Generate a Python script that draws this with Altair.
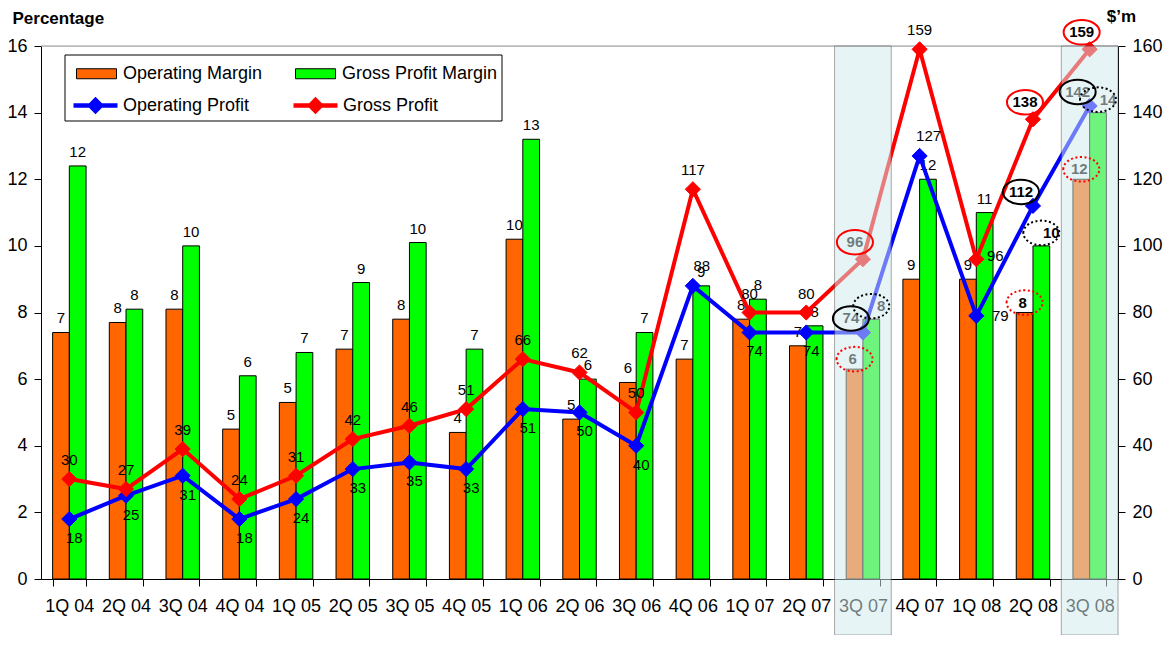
import json
import altair as alt
import pandas as pd

# ---------------- data ----------------
quarters = ["1Q 04", "2Q 04", "3Q 04", "4Q 04", "1Q 05", "2Q 05", "3Q 05", "4Q 05",
            "1Q 06", "2Q 06", "3Q 06", "4Q 06", "1Q 07", "2Q 07", "3Q 07", "4Q 07",
            "1Q 08", "2Q 08", "3Q 08"]
operating_margin = [7.4, 7.7, 8.1, 4.5, 5.3, 6.9, 7.8, 4.4, 10.2, 4.8, 5.9, 6.6,
                    7.8, 7.0, 6.3, 9.0, 9.0, 8.0, 12.0]
gross_profit_margin = [12.4, 8.1, 10.0, 6.1, 6.8, 8.9, 10.1, 6.9, 13.2, 6.0, 7.4, 8.8,
                       8.4, 7.6, 7.8, 12.0, 11.0, 10.0, 14.0]
operating_profit = [18, 25, 31, 18, 24, 33, 35, 33, 51, 50, 40, 88, 74, 74, 74, 127, 79, 112, 142]
gross_profit = [30, 27, 39, 24, 31, 42, 46, 51, 66, 62, 50, 117, 80, 80, 96, 159, 96, 138, 159]

bar_series = ["Operating Margin", "Gross Profit Margin"]
line_series = ["Operating Profit", "Gross Profit"]
highlighted = ["3Q 07", "3Q 08"]
annotated = ["3Q 07", "2Q 08", "3Q 08"]
side_labelled = ["1Q 08"]
blue_above = ["4Q 06", "4Q 07"]

# ---------------- layout / style ----------------
W, H = 1077, 533
PAD = {"left": 33, "top": 38, "right": 49, "bottom": 56}
FONT = "Liberation Sans"
ORANGE, GREEN, BLUE, RED = "#ff6600", "#00ff00", "#0000ff", "#ff0000"

bars_df = pd.DataFrame({
    "quarter": quarters * 2,
    "series": [bar_series[0]] * len(quarters) + [bar_series[1]] * len(quarters),
    "value": operating_margin + gross_profit_margin,
})
lines_df = pd.DataFrame({
    "quarter": quarters * 2,
    "series": [line_series[0]] * len(quarters) + [line_series[1]] * len(quarters),
    "value": operating_profit + gross_profit,
})
hl_df = pd.DataFrame({"quarter": highlighted})
one_df = pd.DataFrame({"k": [0]})


def in_list(lst):
    return f"indexof({json.dumps(lst)}, datum.quarter) >= 0"


def not_in_list(lst):
    return f"indexof({json.dumps(lst)}, datum.quarter) < 0"


def series_is(name):
    return f"datum.series == '{name}'"


x_scale = alt.Scale(domain=quarters, paddingInner=0.41, paddingOuter=0.205)
x_axis = alt.Axis(title=None, labelAngle=0, tickBand="extent", labelFont=FONT,
                  labelFontSize=18, labelColor="black", labelPadding=11,
                  tickSize=7, tickColor="black", domainColor="black",
                  labelOverlap=False, grid=False, labelLimit=200)
x_main = alt.X("quarter:N", sort=quarters, scale=x_scale, axis=x_axis)
x_plain = alt.X("quarter:N", sort=quarters, scale=x_scale, axis=None)
xoff = alt.XOffset("series:N", sort=bar_series,
                   scale=alt.Scale(domain=bar_series, paddingInner=0, paddingOuter=0))

left_axis = alt.Axis(values=list(range(0, 17, 2)), grid=False, title="Percentage",
                     titleAngle=0, titleX=-29, titleY=-23, titleAlign="left",
                     titleBaseline="alphabetic", titleFont=FONT, titleFontSize=17,
                     titleFontWeight="bold", titleColor="black",
                     labelFont=FONT, labelFontSize=18, labelColor="black",
                     labelPadding=7, tickSize=7, tickColor="black", domainColor="black")
right_axis = alt.Axis(orient="right", values=list(range(0, 161, 20)), grid=False,
                      title="$\u2019m", titleAngle=0, titleX=3, titleY=-25,
                      titleAlign="center", titleBaseline="alphabetic", titleFont=FONT,
                      titleFontSize=17, titleFontWeight="bold", titleColor="black",
                      labelFont=FONT, labelFontSize=18, labelColor="black",
                      labelPadding=7, tickSize=7, tickColor="black", domainColor="black")

y_left_scale = alt.Scale(domain=[0, 16], nice=False, zero=True)
y_right_scale = alt.Scale(domain=[0, 160], nice=False, zero=True)
y_left_main = alt.Y("value:Q", scale=y_left_scale, axis=left_axis)
y_left = alt.Y("value:Q", scale=y_left_scale, axis=None)
y_right_main = alt.Y("value:Q", scale=y_right_scale, axis=right_axis)
y_right = alt.Y("value:Q", scale=y_right_scale, axis=None)

leg_bars = alt.Legend(title=None, orient="none", legendX=35, legendY=7,
                      direction="horizontal", columns=2, columnPadding=30,
                      symbolType="M-1,-0.25H1V0.25H-1Z", symbolSize=1600,
                      symbolStrokeColor="black", symbolStrokeWidth=1,
                      labelFont=FONT, labelFontSize=18, labelColor="black",
                      labelOffset=6, padding=0, labelLimit=400)
line_symbol = "M-1,0H1M-0.25,0L0,-0.25L0.25,0L0,0.25Z"
leg_lines = alt.Legend(title=None, orient="none", legendX=30, legendY=35,
                       direction="horizontal", columns=2, columnPadding=34,
                       symbolType=line_symbol, symbolSize=1936, symbolStrokeWidth=4.5,
                       labelFont=FONT, labelFontSize=18, labelColor="black",
                       labelOffset=3, padding=0, labelLimit=400)

bar_color = alt.Color("series:N", sort=bar_series,
                      scale=alt.Scale(domain=bar_series, range=[ORANGE, GREEN]),
                      legend=leg_bars)
line_scale = alt.Scale(domain=line_series, range=[BLUE, RED])
line_stroke = alt.Stroke("series:N", sort=line_series, scale=line_scale, legend=leg_lines)
line_fill = alt.Fill("series:N", sort=line_series, scale=line_scale, legend=leg_lines)

# ---------------- decorations ----------------
legend_box = alt.Chart(one_df).mark_rect(fill="white", stroke="black", strokeWidth=1).encode(
    x=alt.value(24), x2=alt.value(461), y=alt.value(9), y2=alt.value(75))

top_rule = alt.Chart(one_df).mark_rule(color="#999999", strokeWidth=1).encode(
    x=alt.value(0), x2=alt.value(W), y=alt.value(0))

# ---------------- left (percentage) layers ----------------
bars = alt.Chart(bars_df).mark_bar(stroke="black", strokeWidth=1).encode(
    x=x_main, xOffset=xoff, y=y_left_main, color=bar_color)


def bar_label(flt, dx, dy, bold=False):
    return alt.Chart(bars_df).transform_filter(flt).mark_text(
        font=FONT, fontSize=15, color="black", baseline="middle", dx=dx, dy=dy,
        fontWeight="bold" if bold else "normal").encode(
        x=x_main, xOffset=xoff, y=y_left_main, text=alt.Text("value:Q", format=".0f"))


bar_labels = bar_label(not_in_list(annotated), 0, -14)
bar_labels_ann_om = bar_label(in_list(annotated) + " && " + series_is(bar_series[0]), -2, -10, True)
bar_labels_ann_gp = bar_label(in_list(annotated) + " && " + series_is(bar_series[1]), 10, -13, True)

left_base = alt.layer(bars, bar_labels, bar_labels_ann_om, bar_labels_ann_gp)

# ---------------- right ($m) layers ----------------
lines = alt.Chart(lines_df).mark_line(strokeWidth=4).encode(
    x=x_plain, y=y_right_main, stroke=line_stroke, detail="series:N")
points = alt.Chart(lines_df).mark_point(filled=True, shape="diamond", size=230,
                                        strokeWidth=1, opacity=1).encode(
    x=x_plain, y=y_right_main, fill=line_fill, stroke=line_stroke)


def line_label(series, flt, dx, dy, bold=False):
    return alt.Chart(lines_df).transform_filter(series_is(series)).transform_filter(flt).mark_text(
        font=FONT, fontSize=15, color="black", baseline="middle", dx=dx, dy=dy,
        fontWeight="bold" if bold else "normal").encode(
        x=x_plain, y=y_right_main, text=alt.Text("value:Q", format=".0f"))


red_lbl = line_label(line_series[1], not_in_list(annotated + side_labelled), 0, -19)
blue_lbl = line_label(line_series[0], not_in_list(annotated + side_labelled + blue_above), 5, 19)
blue_up = line_label(line_series[0], in_list(blue_above), 9, -20)
red_side = line_label(line_series[1], in_list(side_labelled), 19, -3)
blue_side = line_label(line_series[0], in_list(side_labelled), 24, 0)
red_ann = line_label(line_series[1], in_list(annotated), -8, -17, bold=True)
blue_ann = line_label(line_series[0], in_list(annotated), -12, -14, bold=True)

right_base = alt.layer(lines, points, red_lbl, blue_lbl, blue_up, red_side, blue_side,
                       red_ann, blue_ann)

# ---------------- highlight overlay ----------------
overlay = alt.Chart(hl_df).mark_rect(fill="#d3ebee", opacity=0.52, stroke="#555555",
                                     strokeWidth=1).encode(
    x=alt.X("quarter:N", sort=quarters,
            scale=alt.Scale(domain=quarters, paddingInner=0, paddingOuter=0), axis=None),
    y=alt.value(0), y2=alt.value(H + PAD["bottom"]))

# ---------------- annotation ellipses ----------------
ELLIPSE = "M-1,0A1,0.68,0,1,1,1,0A1,0.68,0,1,1,-1,0Z"


def bar_ellipse(series, dx, dy, color, dash):
    return alt.Chart(bars_df).transform_filter(in_list(annotated)).transform_filter(
        series_is(series)).mark_point(shape=ELLIPSE, size=1300, filled=False, stroke=color,
                                      strokeWidth=2, strokeDash=dash, opacity=1,
                                      xOffset=dx, yOffset=dy).encode(
        x=x_plain, xOffset=xoff, y=y_left)


def line_ellipse(series, dx, dy, color):
    return alt.Chart(lines_df).transform_filter(in_list(annotated)).transform_filter(
        series_is(series)).mark_point(shape=ELLIPSE, size=1300, filled=False, stroke=color,
                                      strokeWidth=2, opacity=1,
                                      xOffset=dx, yOffset=dy).encode(
        x=x_plain, y=y_right)


ell_om = bar_ellipse(bar_series[0], -2, -10, RED, [2, 2.5])
ell_gp = bar_ellipse(bar_series[1], 10, -13, "black", [2, 2.5])
ell_gprofit = line_ellipse(line_series[1], -8, -17, RED)
ell_oprofit = line_ellipse(line_series[0], -12, -14, "black")

chart = alt.layer(
    legend_box, top_rule, left_base, right_base, overlay,
    ell_om, ell_gp, ell_gprofit, ell_oprofit
).resolve_scale(
    x="independent", y="independent"
).properties(
    width=W, height=H, padding=PAD, autosize=alt.AutoSizeParams(type="none"),
    background="white"
).configure_view(stroke=None).configure(font=FONT)

chart.save("out.html", embed_options={"renderer": "svg", "actions": False})
